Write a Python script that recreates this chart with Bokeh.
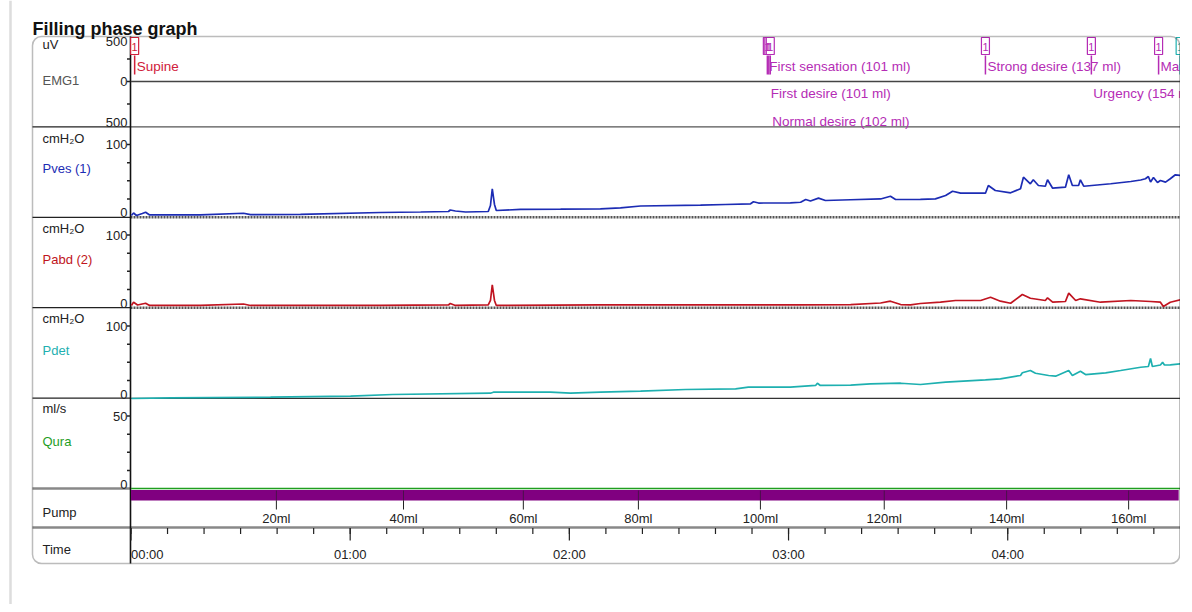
from bokeh.plotting import figure
from bokeh.models import Range1d, BoxAnnotation
from bokeh.core.properties import value
from bokeh.embed import file_html
from bokeh.resources import INLINE

# ---------------- data (time in s, values in channel units) ----------------
pves_t = [0.1, 0.7, 1.5, 3.1, 4.0, 5.1, 19.0, 30.8, 32.7, 46.4, 68.3, 79.3, 86.9, 87.4, 88.8, 91.6,
          97.8, 98.4, 98.9, 99.5, 100.0, 106.6, 117.6, 128.5, 134.0, 139.5, 155.9, 162.7, 169.6, 170.4,
          171.8, 180.5, 183.3, 184.7, 186.0, 188.2, 190.1, 197.0, 205.2, 207.9, 209.3, 216.1, 220.2,
          223.0, 224.9, 227.1, 233.9, 234.7, 236.6, 240.8, 243.5, 244.3, 246.2, 247.0, 248.4, 250.3,
          250.9, 252.3, 255.8, 256.7, 257.7, 259.4, 259.9, 260.8, 268.2, 273.7, 276.4, 277.7, 278.5,
          279.1, 279.9, 281.0, 281.8, 283.2, 284.5, 285.9, 287.3]
pves_v = [2.1, 5.5, 2.1, 4.8, 6.6, 2.8, 2.8, 5.2, 3.2, 3.7, 6.2, 6.9, 7.6, 9.7, 8.3, 6.9,
          7.6, 15.9, 39.0, 17.3, 9.0, 10.4, 10.8, 11.3, 12.7, 15.2, 16.3, 17.3, 18.2, 21.0,
          19.3, 19.6, 20.4, 24.2, 22.1, 26.0, 22.8, 23.8, 24.9, 28.7, 24.2, 24.4, 25.1,
          29.7, 35.6, 32.9, 32.9, 43.5, 36.6, 33.4, 39.0, 55.0, 45.9, 51.4, 43.5, 42.5,
          51.4, 39.8, 41.2, 58.3, 43.5, 43.5, 51.4, 42.5, 45.9, 49.0, 51.1, 52.8, 55.9,
          48.3, 54.6, 47.7, 50.4, 48.1, 52.8, 58.3, 57.3]

pabd_t = [0.1, 0.7, 1.8, 4.0, 5.1, 19.0, 30.8, 32.7, 68.3, 86.9, 87.4, 88.8, 97.8, 98.4, 98.9, 99.5,
          100.0, 128.5, 155.9, 183.3, 197.0, 205.2, 207.9, 210.7, 213.4, 216.1, 221.6, 225.7, 232.6,
          235.3, 238.0, 240.8, 244.0, 246.2, 250.3, 250.9, 252.3, 255.8, 256.7, 258.6, 259.9, 265.4,
          273.7, 279.1, 281.8, 282.6, 284.5, 287.3]
pabd_v = [2.8, 7.3, 3.5, 5.9, 2.8, 2.8, 4.8, 2.8, 2.8, 3.5, 5.5, 2.8, 3.5, 9.7, 31.4, 9.7,
          2.8, 3.5, 3.7, 3.7, 4.1, 6.2, 8.7, 4.1, 3.7, 5.5, 7.3, 9.7, 9.7,
          14.2, 8.7, 5.9, 18.0, 12.8, 9.7, 13.4, 7.3, 8.3, 19.8, 9.7, 12.0, 7.3,
          9.7, 8.3, 7.3, 1.4, 7.3, 10.6]

pdet_t = [0.1, 10.8, 38.2, 60.1, 71.6, 98.4, 99.2, 114.8, 120.3, 128.5, 139.5, 151.8, 165.5, 169.0,
          180.5, 187.4, 187.9, 188.7, 197.0, 202.4, 210.7, 216.1, 223.0, 233.9, 238.0, 243.5, 244.0,
          246.2, 247.6, 251.2, 253.1, 256.7, 257.7, 259.9, 261.3, 266.8, 270.9, 276.4, 278.5, 279.1,
          279.6, 281.8, 282.4, 282.9, 284.5, 287.3]
pdet_v = [0.0, 1.0, 1.8, 3.2, 5.5, 7.3, 8.7, 8.7, 7.3, 8.7, 10.1, 12.4, 13.4, 15.6,
          15.6, 18.0, 21.1, 18.0, 18.6, 20.3, 21.1, 19.3, 22.5, 25.8, 27.2, 31.8, 35.5,
          38.7, 34.9, 31.8, 30.8, 38.7, 31.8, 37.7, 33.1, 35.5, 38.7, 43.2, 44.2, 55.2,
          44.2, 46.3, 50.1, 46.3, 46.5, 47.9]

qura_t = [0.0, 287.3]
qura_v = [0.0, 0.0]
emg_t = [0.0, 287.3]
emg_v = [0.0, 0.0]

pump_on_start = [0.0]
pump_on_end = [286.8]
pump_volume_ml = [20, 40, 60, 80, 100, 120, 140, 160]
pump_volume_t = [39.8, 74.6, 107.4, 138.9, 172.3, 206.2, 239.7, 273.1]

event_t = [1.0, 174.2, 174.6, 175.0, 233.9, 262.9, 281.3, 287.2]
event_label = ["Supine", "First sensation (101 ml)", "First desire (101 ml)",
               "Normal desire (102 ml)", "Strong desire (137 ml)", "Urgency (154 ml)",
               "Maximum cystometric capacity (165 ml)", ""]

time_minor_s = [0, 10, 20, 30, 40, 50, 60, 70, 80, 90, 100, 110, 120, 130, 140, 150, 160, 170,
                180, 190, 200, 210, 220, 230, 240, 250, 260, 270, 280]
time_major_s = [0, 60, 120, 180, 240]
time_major_label = ["00:00", "01:00", "02:00", "03:00", "04:00"]

emg_ticks = [250, 0, -250]
pres_ticks = [100, 75, 50, 25]
qura_ticks = [50, 37.5, 25, 12.5]

# ---------------- styles / layout ----------------
FONT = "Liberation Sans"
BLUE = "#1c2cb4"
RED = "#c01420"
TEAL = "#1eb0b0"
GREEN = "#1f9e1f"
PURPLE = "#800080"
MAG = "#b52cb5"
event_color = ["#d0203a", MAG, MAG, MAG, MAG, MAG, MAG, "#1eb0b0"]
event_level = [0, 0, 1, 2, 0, 1, 0, 0]
level_y = [66, 93, 120.5]

CANVAS_L, CANVAS_R, CANVAS_T, CANVAS_B = 0, 1180, 0, 604
T0_PX = 130.5
PX_PER_S = 3.653


def t_at(px):
    return (px - T0_PX) / PX_PER_S


def chan_range(zero_py, full_py, full_val):
    k = (zero_py - full_py) / full_val
    return Range1d(-(CANVAS_B - zero_py) / k, (zero_py - CANVAS_T) / k)


p = figure(width=CANVAS_R - CANVAS_L, height=CANVAS_B - CANVAS_T,
           x_range=Range1d(t_at(CANVAS_L), t_at(CANVAS_R)),
           y_range=Range1d(CANVAS_B, CANVAS_T),
           output_backend="svg", toolbar_location=None,
           x_axis_location=None, y_axis_location=None, min_border=0)
p.outline_line_color = None
p.background_fill_color = "white"
p.border_fill_color = "white"
p.xgrid.visible = False
p.ygrid.visible = False

p.extra_x_ranges = {"px": Range1d(CANVAS_L, CANVAS_R)}
p.extra_y_ranges = {
    "emg": chan_range(81.0, 36.0, 500.0),
    "pves": chan_range(216.5, 144.1, 100.0),
    "pabd": chan_range(307.0, 234.6, 100.0),
    "pdet": chan_range(398.0, 325.6, 100.0),
    "qura": chan_range(488.0, 415.6, 50.0),
}


def txt(x, y, text, xr="px", yr="default", size="13px", color="#222", align="left",
        baseline="middle", style="normal", x_offset=0):
    p.text(x=x, y=y, text=text, x_range_name=xr, y_range_name=yr,
           text_font=value(FONT), text_font_size=size, text_color=color,
           text_align=align, text_baseline=baseline, text_font_style=style,
           x_offset=x_offset)


# page edge line
p.segment(x0=[10], x1=[10], y0=[CANVAS_T], y1=[CANVAS_B], x_range_name="px",
          line_color="#dddddd", line_width=2.5)

# title
txt([32], [28], ["Filling phase graph"], size="18px", color="#111", baseline="alphabetic",
    style="bold")

# row separators: label column
p.segment(x0=[32] * 4, x1=[130] * 4, y0=[126.4, 216.8, 307.2, 397.6], y1=[126.4, 216.8, 307.2, 397.6],
          x_range_name="px", line_color="#222", line_width=1.3)
p.segment(x0=[32], x1=[130], y0=[488], y1=[488], x_range_name="px", line_color="#888", line_width=2.5)
p.segment(x0=[32], x1=[1180], y0=[527], y1=[527], x_range_name="px", line_color="#888", line_width=2.5)
# row separators: plot part
p.segment(x0=[130], x1=[1180], y0=[126.4], y1=[126.4], x_range_name="px", line_color="#555", line_width=1.3)
p.segment(x0=[130] * 2, x1=[1180] * 2, y0=[216.8, 307.2], y1=[216.8, 307.2], x_range_name="px",
          line_color="#555", line_width=2.5, line_dash="2 1")
p.segment(x0=[130], x1=[1180], y0=[397.8], y1=[397.8], x_range_name="px", line_color="#333", line_width=1.3)

# vertical axis line
p.segment(x0=[130], x1=[130], y0=[36], y1=[563], x_range_name="px", line_color="#111", line_width=1.6)

# channel ticks
for rng, ticks in (("emg", emg_ticks), ("pves", pres_ticks), ("pabd", pres_ticks),
                   ("pdet", pres_ticks), ("qura", qura_ticks)):
    p.segment(x0=[126.5] * len(ticks), x1=[130] * len(ticks), y0=ticks, y1=ticks,
              x_range_name="px", y_range_name=rng, line_color="#222", line_width=1.5)

# channel scale labels
txt([127], [500], ["500"], yr="emg", align="right", baseline="top")
txt([127], [0], ["0"], yr="emg", align="right", baseline="middle")
txt([127], [-500], ["500"], yr="emg", align="right", baseline="bottom")
for rng in ("pves", "pabd", "pdet"):
    txt([127], [100], ["100"], yr=rng, align="right", baseline="alphabetic")
    txt([127], [0], ["0"], yr=rng, align="right", baseline="bottom")
txt([127], [50], ["50"], yr="qura", align="right", baseline="alphabetic")
txt([127], [0], ["0"], yr="qura", align="right", baseline="bottom")

# channel names / units
txt([42, 42, 42, 42, 42, 42, 42], [44, 138, 228, 318, 408, 512, 549],
    ["uV", "cmH₂O", "cmH₂O", "cmH₂O", "ml/s", "Pump", "Time"])
txt([42], [80], ["EMG1"], color="#555")
txt([42], [168], ["Pves (1)"], color=BLUE)
txt([42], [259], ["Pabd (2)"], color=RED)
txt([42], [350], ["Pdet"], color=TEAL)
txt([42], [441], ["Qura"], color=GREEN)

# traces
p.line(emg_t, emg_v, y_range_name="emg", line_color="#444", line_width=1.6)
p.line(pves_t, pves_v, y_range_name="pves", line_color=BLUE, line_width=1.7)
p.line(pabd_t, pabd_v, y_range_name="pabd", line_color=RED, line_width=1.7)
p.line(pdet_t, pdet_v, y_range_name="pdet", line_color=TEAL, line_width=1.7)

# pump bar and qura baseline
p.quad(left=pump_on_start, right=pump_on_end, top=[489.5], bottom=[500],
       fill_color=PURPLE, line_color=None)
p.line(qura_t, qura_v, y_range_name="qura", line_color=GREEN, line_width=1.5)

# pump volume ticks
n = len(pump_volume_t)
p.segment(x0=pump_volume_t, x1=pump_volume_t, y0=[490] * n, y1=[500] * n, line_color="#4a104a", line_width=1)
p.segment(x0=pump_volume_t, x1=pump_volume_t, y0=[500] * n, y1=[509] * n, line_color="#222", line_width=1)
txt(pump_volume_t, [517.5] * n, [f"{v}ml" for v in pump_volume_ml], xr="default", align="center")

# time axis
m = len(time_minor_s)
p.segment(x0=time_minor_s, x1=time_minor_s, y0=[527.5] * m, y1=[533.5] * m, line_color="#222", line_width=1.2)
k = len(time_major_s)
p.segment(x0=time_major_s, x1=time_major_s, y0=[527.5] * k, y1=[540] * k, line_color="#222", line_width=1.2)
txt(time_major_s[:1], [554], time_major_label[:1], xr="default", align="left")
txt(time_major_s[1:], [554] * (k - 1), time_major_label[1:], xr="default", align="center")

# events
ne = len(event_t)
p.segment(x0=event_t, x1=event_t, y0=[55] * ne, y1=[74] * ne, line_color=event_color, line_width=1.5)
p.rect(x=event_t, y=[45.5] * ne, width=8, height=17, width_units="screen", height_units="screen",
       fill_color="white", line_color=event_color, line_width=1.2)
p.text(x=event_t, y=[46] * ne, text=["1"] * ne, text_font=value(FONT), text_font_size="11px",
       text_color=event_color, text_align="center", text_baseline="middle")
p.text(x=event_t, y=[level_y[l] for l in event_level], text=event_label, x_offset=2,
       text_font=value(FONT), text_font_size="13.5px", text_color=event_color,
       text_align="left", text_baseline="middle")

# outer rounded box
p.add_layout(BoxAnnotation(left=32, right=1179.3, top=36, bottom=563, x_range_name="px",
                           fill_alpha=0, line_color="#222", line_width=1.5, border_radius=9))

open("out.html", "w").write(file_html(p, INLINE))
